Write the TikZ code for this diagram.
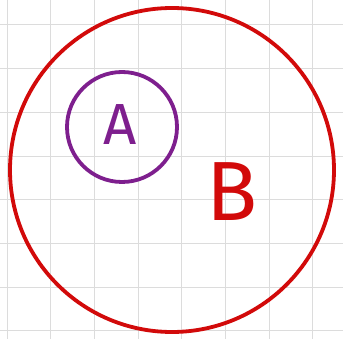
\documentclass[tikz,border=0pt]{standalone}
\usepackage{fontspec}
\setsansfont{Fira Sans}
\usepackage{tikz}
\usetikzlibrary{positioning}
\usepackage{xcolor}
\definecolor{clrGrid}{HTML}{DCDCDC}
\definecolor{clrSetB}{HTML}{D20A0A}
\definecolor{clrSetA}{HTML}{7E1F8E}

\begin{document}
\begin{tikzpicture}[x=1pt, y=-1pt,
    setcircle/.style={circle, line width=3.8pt, inner sep=0pt},
    setlabel/.style={font=\sffamily, inner sep=0pt}]
  \useasboundingbox[fill=white] (0,0) rectangle (343,339);
  % grid
  \foreach \gx in {0,...,7}
    \draw[clrGrid, line width=1pt] (7+43.7*\gx,0) -- (7+43.7*\gx,339);
  \foreach \gy in {0,...,7}
    \draw[clrGrid, line width=1pt] (0,25+43.7*\gy) -- (343,25+43.7*\gy);
  % sets
  \node[setcircle, draw=clrSetB, minimum size=324pt] (setB) at (172,170) {};
  \node[setcircle, draw=clrSetA, minimum size=110pt] (setA) at (122,127) {};
  \node[setlabel, text=clrSetA, font=\sffamily\fontsize{58}{60}\selectfont]
    (labelA) at (120,125) {A};
  \node[setlabel, text=clrSetB, font=\sffamily\fontsize{84}{86}\selectfont]
    (labelB) at (232,192) {B};
\end{tikzpicture}
\end{document}
